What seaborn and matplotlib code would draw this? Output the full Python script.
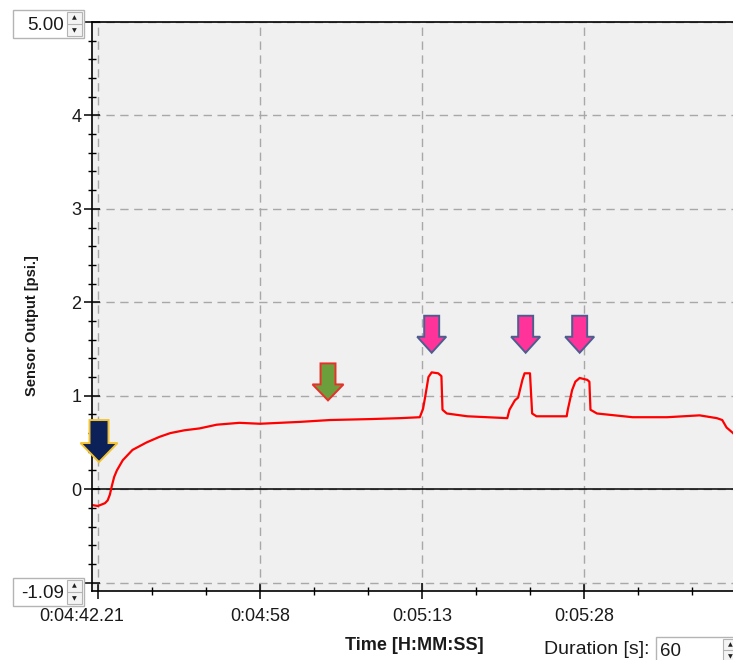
import matplotlib
matplotlib.use("Agg")
import matplotlib.pyplot as plt
import matplotlib.transforms as mtransforms
from matplotlib.patches import Polygon, Rectangle
import numpy as np
import pandas as pd
import seaborn as sns

# sensor trace, seconds after 0:04:42.21
time_s = [-0.55, 0.0, 0.65, 0.9, 1.1, 1.3, 1.5, 1.75, 2.3, 3.2, 4.5, 5.7, 6.7, 8.0, 9.4,
          11.0, 13.1, 15.0, 18.7, 21.5, 25.2, 28.0, 29.8, 30.1, 30.3, 30.6, 30.9, 31.5,
          31.8, 31.9, 32.3, 34.2, 37.9, 38.1, 38.6, 38.9, 39.3, 39.5, 40.0, 40.2, 40.6,
          43.4, 43.5, 43.9, 44.2, 44.6, 45.3, 45.5, 45.6, 46.2, 49.5, 52.7, 54.2, 55.7,
          57.3, 57.8, 58.2, 58.8, 59.6]
psi = [-0.17, -0.18, -0.15, -0.12, -0.06, 0.04, 0.13, 0.20, 0.31, 0.42, 0.50, 0.56, 0.60,
       0.63, 0.65, 0.69, 0.71, 0.70, 0.72, 0.74, 0.75, 0.76, 0.77, 0.86, 0.99, 1.20, 1.25,
       1.24, 1.21, 0.85, 0.81, 0.78, 0.76, 0.85, 0.95, 0.98, 1.17, 1.24, 1.24, 0.81, 0.78,
       0.78, 0.85, 1.06, 1.15, 1.19, 1.17, 1.15, 0.85, 0.81, 0.77, 0.77, 0.78, 0.79, 0.76,
       0.74, 0.66, 0.60, 0.50]

x_ticks = [0, 15, 30, 45]
x_labels = ["0:04:42.21", "0:04:58", "0:05:13", "0:05:28"]
y_ticks = [-1, 0, 1, 2, 3, 4, 5]
y_labels = ["", "0", "1", "2", "3", "4", ""]
y_min, y_max = -1.09, 5.00
duration = 60

# marker arrows: (time, psi at tip)
navy_arrow = (0.1, 0.29)
green_arrow = (21.3, 0.95)
pink_arrows = [(30.9, 1.46), (39.6, 1.46), (44.6, 1.46)]

df = pd.DataFrame({"t": time_s, "psi": psi})

sns.set_style("ticks")
plt.rcParams["font.family"] = ["Liberation Sans", "DejaVu Sans"]

W, H = 733, 660
fig = plt.figure(figsize=(W / 100, H / 100), dpi=100)
ax = fig.add_axes([92 / W, (H - 591) / H, 654 / W, 569 / H])
ax.set_facecolor("#f0f0f0")

sns.lineplot(data=df, x="t", y="psi", ax=ax, color="#ff0000", lw=1.6,
             sort=False, estimator=None)
ax.axhline(0, color="black", lw=1.1, zorder=1.5)

ax.set_xlim(-0.55, duration)
ax.set_ylim(y_min, y_max)
ax.set_xticks(x_ticks)
ax.set_xticklabels(x_labels)
ax.set_xticks(np.arange(0, duration + 1, 5), minor=True)
ax.set_yticks(y_ticks)
ax.set_yticklabels(y_labels)
ax.set_yticks(np.arange(-1, 5.01, 0.2), minor=True)
ax.set_xlabel("")
ax.set_ylabel("")

ax.grid(True, which="major", color="#a8a8a8", lw=1, ls=(0, (6, 4)))
ax.tick_params(which="major", direction="inout", length=11, width=1.1, color="black",
               labelsize=13, labelcolor="#1a1a1a")
ax.tick_params(which="minor", direction="inout", length=6, width=1, color="black")
ax.tick_params(axis="x", which="major", pad=7)
ax.tick_params(axis="y", which="major", pad=2)
for side in ["left", "bottom", "top"]:
    ax.spines[side].set_color("black")
    ax.spines[side].set_linewidth(1.2)
ax.spines["right"].set_visible(False)

# first x label sits a little left of its tick
lbl = ax.get_xticklabels()[0]
lbl.set_transform(lbl.get_transform() + mtransforms.ScaledTranslation(-0.16, 0, fig.dpi_scale_trans))


def add_arrow(tip, half_shaft, half_head, head_h, total_h, face, edge):
    v = np.array([(0, 0), (half_head, head_h), (half_shaft, head_h), (half_shaft, total_h),
                  (-half_shaft, total_h), (-half_shaft, head_h), (-half_head, head_h)]) / 100
    tr = fig.dpi_scale_trans + mtransforms.ScaledTranslation(tip[0], tip[1], ax.transData)
    ax.add_patch(Polygon(v, closed=True, transform=tr, facecolor=face, edgecolor=edge,
                         lw=1.4, clip_on=False, zorder=5))


add_arrow(navy_arrow, 9.5, 18.5, 19, 42, "#0c2157", "#f2c230")
add_arrow(green_arrow, 7.5, 15.5, 16, 37, "#6c9e3c", "#e8302a")
for tip in pink_arrows:
    add_arrow(tip, 7.5, 14.5, 16, 37, "#ff3399", "#4a5f8f")


def px(x, y):
    return x / W, 1 - y / H


def spinbox(x0, y0, x1, y1, text, ha="right"):
    fx, fy = px(x0, y1)
    fig.patches.append(Rectangle((fx, fy), (x1 - x0) / W, (y1 - y0) / H, transform=fig.transFigure,
                                 facecolor="white", edgecolor="#b4b4b4", lw=1))
    sx = x1 - 17
    fx, fy = px(sx, y1 - 2)
    fig.patches.append(Rectangle((fx, fy), 15 / W, (y1 - y0 - 4) / H, transform=fig.transFigure,
                                 facecolor="#f4f4f4", edgecolor="#b4b4b4", lw=0.8))
    ym = (y0 + y1) / 2
    fig.lines.append(plt.Line2D([px(sx, 0)[0], px(sx + 15, 0)[0]], [px(0, ym)[1]] * 2,
                                transform=fig.transFigure, color="#b4b4b4", lw=0.8))
    fig.text(*px(sx + 7.5, (y0 + ym) / 2 + 1), "\u25b2", fontsize=4.5, ha="center", va="center",
             family="DejaVu Sans", color="#222222")
    fig.text(*px(sx + 7.5, (ym + y1) / 2), "\u25bc", fontsize=4.5, ha="center", va="center",
             family="DejaVu Sans", color="#222222")
    if ha == "right":
        fig.text(*px(sx - 3, ym + 1), text, fontsize=13.5, ha="right", va="center", color="#1a1a1a")
    else:
        fig.text(*px(x0 + 4, ym + 1), text, fontsize=13.5, ha="left", va="center", color="#1a1a1a")


spinbox(13, 10, 84, 38, "5.00")
spinbox(13, 578, 84, 606, "-1.09")
spinbox(656, 637, 740, 663, str(duration), ha="left")

fig.text(*px(32, 326), "Sensor Output [psi.]", rotation=90, ha="center", va="center",
         fontsize=10.5, fontweight="bold", color="#1a1a1a")
fig.text(*px(414, 645), "Time [H:MM:SS]", ha="center", va="center",
         fontsize=13, fontweight="bold", color="#1a1a1a")
fig.text(*px(650, 650), "Duration [s]:", ha="right", va="center",
         fontsize=14, color="#1a1a1a")

fig.savefig("out.png", dpi=100, facecolor="white")
